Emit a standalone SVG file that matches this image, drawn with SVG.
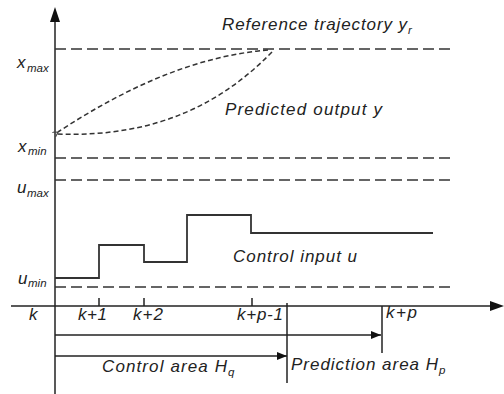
<svg xmlns="http://www.w3.org/2000/svg" width="504" height="394" viewBox="0 0 504 394">
<defs>
<style>
.t{font-family:"Liberation Sans",Arial,sans-serif;font-style:italic;font-size:17px;fill:#222}
.s{font-family:"Liberation Sans",Arial,sans-serif;font-style:italic;font-size:11.5px;fill:#222}
.ax{stroke:#222;stroke-width:1.5;fill:none}
.dl{stroke:#333;stroke-width:1.5;stroke-dasharray:11 5;fill:none}
.dc{stroke:#333;stroke-width:1.5;stroke-dasharray:5 3;fill:none}
.st{stroke:#333;stroke-width:1.8;fill:none}
</style>
<marker id="ah" markerWidth="10" markerHeight="8" refX="10" refY="4" orient="auto" markerUnits="userSpaceOnUse">
<path d="M0,0 L10,4 L0,8 Z" fill="#111"/>
</marker>
<marker id="sa" markerWidth="6" markerHeight="6" refX="1" refY="3" orient="auto" markerUnits="userSpaceOnUse">
<path d="M6,0 L1,3 L6,6" fill="none" stroke="#444" stroke-width="1"/>
</marker>
</defs>
<g id="axes">
<line class="ax" x1="55" y1="394" x2="55" y2="10"/>
<path d="M55,7 L50,22 L60,22 Z" fill="#111"/>
<line class="ax" x1="11" y1="306" x2="494" y2="306"/>
<path d="M504,306 L490,301 L490,311 Z" fill="#111"/>
<line class="ax" x1="99" y1="298" x2="99" y2="306"/>
<line class="ax" x1="144" y1="298" x2="144" y2="306"/>
<line class="ax" x1="252" y1="298" x2="252" y2="306"/>
</g>
<g id="limits">
<line class="dl" x1="55" y1="49" x2="452" y2="49"/>
<line class="dl" x1="55" y1="158" x2="455" y2="158"/>
<line class="dl" x1="55" y1="180" x2="452" y2="180"/>
<line class="dl" x1="55" y1="287" x2="452" y2="287"/>
</g>
<g id="curves">
<path class="dc" d="M268,50 C195,56 125,88 58,132" marker-end="url(#sa)"/>
<path class="dc" d="M272,52 C225,100 160,138 57,134"/>
</g>
<g id="control-input">
<path class="st" d="M55,278 H99 V245 H144 V262 H187 V215 H251 V233 H433"/>
</g>
<g id="connectors">
<line class="ax" x1="287" y1="303" x2="287" y2="383"/>
<line class="ax" x1="382" y1="306" x2="382" y2="353"/>
<line class="ax" x1="55" y1="335" x2="381" y2="335" marker-end="url(#ah)"/>
<line class="ax" x1="55" y1="356" x2="287" y2="356" marker-end="url(#ah)"/>
</g>
<g id="labels">
<text class="t" x="222" y="30" textLength="185" lengthAdjust="spacing">Reference trajectory y</text>
<text class="s" x="408" y="34">r</text>
<text class="t" x="225" y="115" textLength="157" lengthAdjust="spacing">Predicted output y</text>
<text class="t" x="233" y="262" textLength="124" lengthAdjust="spacing">Control input u</text>
<text class="t" x="102" y="372" textLength="125" lengthAdjust="spacing">Control area H</text>
<text class="s" x="228" y="376">q</text>
<text class="t" x="291" y="370" textLength="147" lengthAdjust="spacing">Prediction area H</text>
<text class="s" x="439" y="374">p</text>
<text class="t" x="17" y="68">x</text><text class="s" x="27" y="72">max</text>
<text class="t" x="18" y="152">x</text><text class="s" x="28" y="155">min</text>
<text class="t" x="17" y="193">u</text><text class="s" x="27" y="197">max</text>
<text class="t" x="18" y="284">u</text><text class="s" x="28" y="287">min</text>
<text class="t" x="29" y="320">k</text>
<text class="t" x="78" y="320" textLength="29" lengthAdjust="spacing">k+1</text>
<text class="t" x="133" y="320" textLength="30" lengthAdjust="spacing">k+2</text>
<text class="t" x="237" y="320" textLength="46" lengthAdjust="spacing">k+p-1</text>
<text class="t" x="386" y="318" textLength="31" lengthAdjust="spacing">k+p</text>
</g>
</svg>
